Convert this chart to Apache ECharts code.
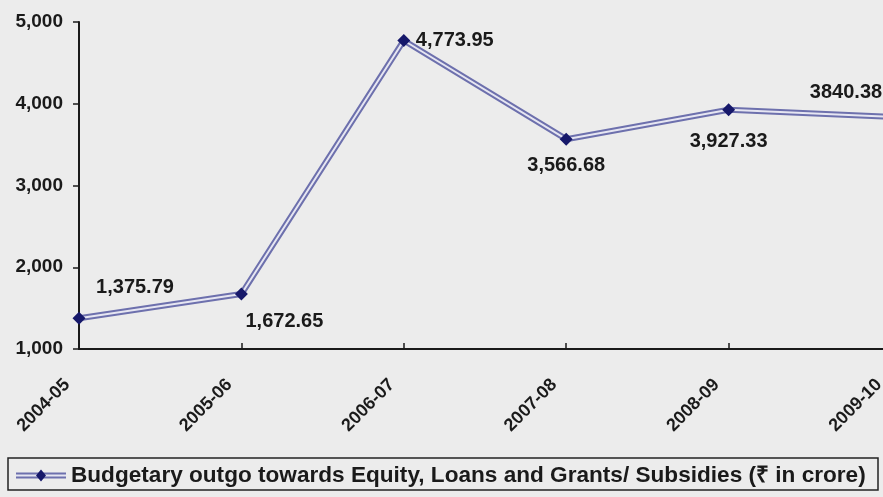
<!DOCTYPE html>
<html>
<head>
<meta charset="utf-8">
<script src="https://cdn.jsdelivr.net/npm/echarts@6/dist/echarts.min.js"></script>
<style>
  html, body { margin: 0; padding: 0; background: #ececec; }
  #chart { width: 883px; height: 497px; }
</style>
</head>
<body>
<div id="chart"></div>
<script>
// Budgetary outgo by year (₹ in crore)
const years = ['2004-05', '2005-06', '2006-07', '2007-08', '2008-09', '2009-10'];
const outgo = [1375.79, 1672.65, 4773.95, 3566.68, 3927.33, 3840.38];
const valueLabels = ['1,375.79', '1,672.65', '4,773.95', '3,566.68', '3,927.33', '3840.38'];
const yTicks = [1000, 2000, 3000, 4000, 5000];
const seriesName = 'Budgetary outgo towards Equity, Loans and Grants/ Subsidies (₹ in crore)';

// label offsets (centre of text relative to the marker)
const labelOffsets = [[56, -31], [43, 27], [51, 0], [0, 26], [0, 32], [-45, -24]];

const FONT = '"Liberation Sans", Arial, sans-serif';
const LINE_OUTER = '#6d70ad';
const LINE_INNER = '#e6e6f2';
const MARKER = '#16186a';

const legendIcon = 'image://data:image/svg+xml;utf8,' + encodeURIComponent(
  '<svg xmlns="http://www.w3.org/2000/svg" width="50" height="14">' +
  '<line x1="0" y1="7" x2="50" y2="7" stroke="' + LINE_OUTER + '" stroke-width="6"/>' +
  '<line x1="0" y1="7" x2="50" y2="7" stroke="' + LINE_INNER + '" stroke-width="2"/>' +
  '<polygon points="25,1 30,7 25,13 20,7" fill="' + MARKER + '"/>' +
  '</svg>');

const labelledData = outgo.map((v, i) => ({
  value: v,
  label: {
    show: true,
    position: 'inside',
    offset: labelOffsets[i],
    formatter: () => valueLabels[i]
  }
}));

const chart = echarts.init(document.getElementById('chart'));
chart.setOption({
  backgroundColor: '#ececec',
  animation: false,
  grid: { left: 79, top: 22, width: 812, bottom: 148, containLabel: false, outerBoundsMode: 'none' },
  xAxis: {
    type: 'category',
    data: years,
    boundaryGap: false,
    axisLine: { lineStyle: { color: '#1a1a1a', width: 2 } },
    axisTick: { show: true, inside: true, length: 6, lineStyle: { color: '#1a1a1a', width: 1.5 } },
    axisLabel: {
      rotate: 45,
      margin: 21,
      padding: [0, 17, 0, 0],
      color: '#1a1a1a',
      fontFamily: FONT,
      fontWeight: 'bold',
      fontSize: 18
    },
    splitLine: { show: false }
  },
  yAxis: {
    type: 'value',
    min: yTicks[0],
    max: yTicks[yTicks.length - 1],
    interval: 1000,
    axisLine: { show: true, lineStyle: { color: '#1a1a1a', width: 2 } },
    axisTick: { show: true, length: 6, lineStyle: { color: '#1a1a1a', width: 1.5 } },
    axisLabel: {
      margin: 16,
      color: '#1a1a1a',
      fontFamily: FONT,
      fontWeight: 'bold',
      fontSize: 19,
      formatter: v => v.toLocaleString('en-US')
    },
    splitLine: { show: false }
  },
  legend: {
    data: [{ name: seriesName, icon: legendIcon }],
    left: 16,
    top: 464,
    itemWidth: 50,
    itemHeight: 14,
    itemGap: 6,
    padding: 0,
    textStyle: {
      color: '#1a1a1a',
      fontFamily: FONT,
      fontWeight: 'bold',
      fontSize: 22.6
    }
  },
  graphic: [{
    type: 'rect',
    shape: { x: 8, y: 458, width: 870, height: 32 },
    style: { fill: 'none', stroke: '#222', lineWidth: 1.5 },
    silent: true
  }],
  series: [
    {
      name: seriesName,
      type: 'line',
      data: outgo,
      showSymbol: false,
      symbol: 'none',
      lineStyle: { color: LINE_OUTER, width: 6 },
      itemStyle: { color: LINE_OUTER },
      z: 2
    },
    {
      name: 'inner',
      type: 'line',
      data: labelledData,
      symbol: 'diamond',
      symbolSize: 13,
      itemStyle: { color: MARKER },
      lineStyle: { color: LINE_INNER, width: 2 },
      label: {
        color: '#1a1a1a',
        fontFamily: FONT,
        fontWeight: 'bold',
        fontSize: 20
      },
      z: 3
    }
  ]
});
</script>
</body>
</html>
